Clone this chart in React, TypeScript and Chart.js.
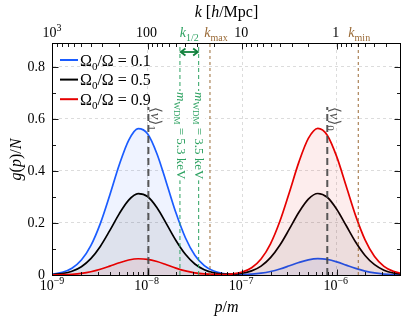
import React, { useEffect, useRef } from 'react';
import { Chart, registerables } from 'chart.js';

Chart.register(...registerables);

// ---------------- data ----------------
const logP = [-9.0, -8.9, -8.8, -8.7, -8.6, -8.5, -8.4, -8.3, -8.2, -8.1, -8.0, -7.9, -7.8, -7.7, -7.6, -7.5, -7.4, -7.3, -7.2, -7.1,
  -7.0, -6.9, -6.8, -6.7, -6.6, -6.5, -6.4, -6.3, -6.2, -6.1, -6.0, -5.9, -5.8, -5.7, -5.6, -5.5, -5.4, -5.3];
const ratios = ['0.1', '0.5', '0.9'];
const gBlue = [0.0037, 0.0104, 0.0259, 0.0574, 0.1130, 0.1976, 0.3068, 0.4229, 0.5178, 0.5627, 0.5430, 0.4652, 0.3539, 0.2390, 0.1433, 0.0763, 0.0361, 0.0152, 0.0058, 0.0024,
  0.0019, 0.0033, 0.0069, 0.0134, 0.0231, 0.0354, 0.0482, 0.0583, 0.0627, 0.0598, 0.0506, 0.0380, 0.0254, 0.0150, 0.0079, 0.0037, 0.0015, 0.0006];
const gBlack = [0.0020, 0.0058, 0.0144, 0.0319, 0.0628, 0.1098, 0.1705, 0.2351, 0.2878, 0.3127, 0.3018, 0.2586, 0.1967, 0.1329, 0.0797, 0.0424, 0.0201, 0.0086, 0.0039, 0.0033,
  0.0066, 0.0157, 0.0343, 0.0668, 0.1154, 0.1771, 0.2412, 0.2917, 0.3133, 0.2988, 0.2529, 0.1901, 0.1269, 0.0752, 0.0396, 0.0185, 0.0077, 0.0028];
const gRed = [0.0004, 0.0012, 0.0029, 0.0064, 0.0126, 0.0220, 0.0341, 0.0470, 0.0576, 0.0625, 0.0604, 0.0517, 0.0393, 0.0266, 0.0159, 0.0085, 0.0041, 0.0021, 0.0019, 0.0043,
  0.0115, 0.0281, 0.0618, 0.1201, 0.2076, 0.3185, 0.4339, 0.5249, 0.5637, 0.5375, 0.4550, 0.3421, 0.2283, 0.1353, 0.0712, 0.0333, 0.0138, 0.0051];

const meanP = [1.02e-8, 7.95e-7];
const meanIdx = ['1', '0'];
const meanTop = 0.646;
const wdmP = [2.2e-8, 3.47e-8];
const wdmMass = ['5.3', '3.5'];
const kLimP = [4.57e-8, 1.69e-6];
const kLimName = ['max', 'min'];

const xDecades = [-9, -8, -7, -6];
const kDecades = [-1, 0, 1, 2, 3];
const yTickVals = [0, 0.1, 0.2, 0.3, 0.4, 0.5, 0.6, 0.7, 0.8];
const yLabelVals = [0, 0.2, 0.4, 0.6, 0.8];

const P_MIN = 1e-9;
const P_MAX = 4.67e-6;
const Y_MAX = 0.888;
const K_FACTOR = 1e-6; // k [h/Mpc] = K_FACTOR / p

// ---------------- style ----------------
const FONT = '"Liberation Serif", "DejaVu Serif", serif';
const BLUE = '#1a5cff';
const BLACK = '#000000';
const RED = '#e60000';
const GREEN = '#2ea262';
const GREEN_DARK = '#10803c';
const BROWN = '#9a6a36';
const GRAY = 'rgba(70,70,70,0.9)';

const isDecade = (v: number) => Math.abs(Math.log10(v) - Math.round(Math.log10(v))) < 1e-6;

type Part = { t: string; i?: boolean; s?: 'sub' | 'sup' };
const partFont = (p: Part, size: number) => `${p.i ? 'italic ' : ''}${p.s ? Math.round(size * 0.7) : size}px ${FONT}`;
function measureParts(ctx: CanvasRenderingContext2D, parts: Part[], size: number) {
  let w = 0;
  for (const p of parts) { ctx.font = partFont(p, size); w += ctx.measureText(p.t).width; }
  return w;
}
function drawParts(ctx: CanvasRenderingContext2D, parts: Part[], x: number, y: number, size: number, color: string, align: 'left' | 'center' | 'right' = 'left') {
  const w = measureParts(ctx, parts, size);
  let cx = align === 'center' ? x - w / 2 : align === 'right' ? x - w : x;
  ctx.fillStyle = color;
  ctx.textAlign = 'left';
  for (const p of parts) {
    ctx.font = partFont(p, size);
    const dy = p.s === 'sub' ? size * 0.25 : p.s === 'sup' ? -size * 0.42 : 0;
    ctx.fillText(p.t, cx, y + dy);
    cx += ctx.measureText(p.t).width;
  }
  return w;
}

const xLabelParts = (v: number): Part[] => [{ t: '10' }, { t: String(Math.round(Math.log10(v))).replace('-', '\u2212'), s: 'sup' }];
const kLabelParts = (v: number): Part[] => (v >= 999 ? [{ t: '10' }, { t: '3', s: 'sup' }] : [{ t: String(Math.round(v)) }]);

const decorPlugin = {
  id: 'decor',
  afterDraw(chart: any) {
    const ctx: CanvasRenderingContext2D = chart.ctx;
    const a = chart.chartArea;
    const sx = chart.scales.x, st = chart.scales.xTop, sy = chart.scales.y;
    ctx.save();
    ctx.setLineDash([]);
    const seg = (x1: number, y1: number, x2: number, y2: number) => { ctx.beginPath(); ctx.moveTo(x1, y1); ctx.lineTo(x2, y2); ctx.stroke(); };

    // inward tick marks + decade labels
    ctx.strokeStyle = '#000';
    ctx.lineWidth = 0.9;
    ctx.textBaseline = 'alphabetic';
    for (const t of sx.ticks) {
      const raw = sx.getPixelForValue(t.value);
      const px = Math.round(raw) + 0.5;
      if (isDecade(t.value)) drawParts(ctx, xLabelParts(t.value), raw - 1, a.bottom + 15, 14, '#000', 'center');
      if (px < a.left + 1 || px > a.right - 1) continue;
      seg(px, a.bottom, px, a.bottom - (isDecade(t.value) ? 5.5 : 3));
    }
    for (const t of st.ticks) {
      const raw = st.getPixelForValue(t.value);
      const px = Math.round(raw) + 0.5;
      if (isDecade(t.value)) drawParts(ctx, kLabelParts(t.value), raw - 1, a.top - 7, 14, '#000', 'center');
      if (px < a.left + 1 || px > a.right - 1) continue;
      seg(px, a.top, px, a.top + (isDecade(t.value) ? 5.5 : 3));
    }
    for (const t of sy.ticks) {
      const py = Math.round(sy.getPixelForValue(t.value)) + 0.5;
      if (py > a.bottom - 1) continue;
      const L = yLabelVals.some((v) => Math.abs(v - t.value) < 1e-6) ? 5.5 : 3;
      seg(a.left, py, a.left + L, py);
      seg(a.right, py, a.right - L, py);
    }
    // frame
    ctx.lineWidth = 1;
    ctx.strokeRect(a.left - 0.5, a.top - 0.5, a.right - a.left + 1, a.bottom - a.top + 1);

    // mean labels <v>
    meanP.forEach((p, i) => {
      const px = sx.getPixelForValue(p);
      const py = sy.getPixelForValue(meanTop);
      ctx.save();
      ctx.translate(px + 3, py);
      ctx.rotate(Math.PI / 2);
      ctx.textBaseline = 'alphabetic';
      drawParts(ctx, [{ t: '\u27E8' }, { t: 'v', i: true }, { t: '\u27E9' }, { t: meanIdx[i], s: 'sub' }], 0, 0, 15, '#555');
      ctx.restore();
    });

    // WDM labels on green lines
    wdmP.forEach((p, i) => {
      const px = sx.getPixelForValue(p);
      const parts: Part[] = [{ t: 'm', i: true }, { t: 'WDM', s: 'sub' }, { t: ' = ' + wdmMass[i] + ' keV' }];
      ctx.save();
      ctx.translate(px, a.top + 48);
      ctx.rotate(Math.PI / 2);
      ctx.textBaseline = 'middle';
      const w = measureParts(ctx, parts, 13);
      ctx.fillStyle = '#fff';
      ctx.fillRect(-1, -6.5, w + 2, 13);
      drawParts(ctx, parts, 0, 0, 13, GREEN);
      ctx.restore();
    });

    // green double arrow (k_1/2)
    {
      const x1 = sx.getPixelForValue(wdmP[0]);
      const x2 = sx.getPixelForValue(wdmP[1]);
      const y = a.top + 8;
      ctx.strokeStyle = GREEN_DARK;
      ctx.lineWidth = 1.8;
      seg(x1 + 1, y, x2 - 1, y);
      ctx.beginPath();
      ctx.moveTo(x1 + 5.5, y - 3.5); ctx.lineTo(x1 + 0.8, y); ctx.lineTo(x1 + 5.5, y + 3.5);
      ctx.moveTo(x2 - 5.5, y - 3.5); ctx.lineTo(x2 - 0.8, y); ctx.lineTo(x2 - 5.5, y + 3.5);
      ctx.stroke();
    }

    // top annotation labels
    ctx.textBaseline = 'alphabetic';
    const topBase = a.top - 7;
    {
      const xm = (sx.getPixelForValue(wdmP[0]) + sx.getPixelForValue(wdmP[1])) / 2;
      drawParts(ctx, [{ t: 'k', i: true }, { t: '1/2', s: 'sub' }], xm, topBase, 14, GREEN, 'center');
    }
    kLimP.forEach((p, i) => {
      const px = sx.getPixelForValue(p) + (i === 0 ? 6 : 1);
      drawParts(ctx, [{ t: 'k', i: true }, { t: kLimName[i], s: 'sub' }], px, topBase, 14, BROWN, 'center');
    });

    // axis titles
    const cx = (a.left + a.right) / 2;
    drawParts(ctx, [{ t: 'k', i: true }, { t: ' [' }, { t: 'h', i: true }, { t: '/Mpc]' }], cx, 17, 16, '#000', 'center');
    drawParts(ctx, [{ t: 'p', i: true }, { t: '/' }, { t: 'm', i: true }], cx, 312, 16, '#000', 'center');
    ctx.save();
    ctx.translate(21, (a.top + a.bottom) / 2);
    ctx.rotate(-Math.PI / 2);
    drawParts(ctx, [{ t: 'g', i: true }, { t: '(' }, { t: 'p', i: true }, { t: ')/' }, { t: 'N', i: true }], 0, 0, 16, '#000', 'center');
    ctx.restore();

    // legend
    const series = [BLUE, BLACK, RED];
    series.forEach((c, i) => {
      const yy = a.top + 16 + i * 19.6;
      ctx.strokeStyle = c;
      ctx.lineWidth = 2;
      seg(a.left + 7, yy, a.left + 25, yy);
      drawParts(ctx, [{ t: '\u03A9' }, { t: '0', s: 'sub' }, { t: '/\u03A9' }, { t: ' = ' }, { t: ratios[i] }], a.left + 27, yy + 5.5, 16, '#000');
    });
    ctx.restore();
  },
};

function curve(vals: number[]) {
  return logP.map((e, i) => ({ x: Math.pow(10, e), y: vals[i] }));
}

export default function App() {
  const ref = useRef<HTMLCanvasElement>(null);
  useEffect(() => {
    const xTicks: number[] = [];
    xDecades.forEach((e) => { for (let m = 1; m <= 9; m++) { const v = m * Math.pow(10, e); if (v >= P_MIN * 0.999 && v <= P_MAX) xTicks.push(v); } });
    const kMin = K_FACTOR / P_MAX;
    const kMax = K_FACTOR / P_MIN;
    const kTicks: number[] = [];
    kDecades.forEach((e) => { for (let m = 1; m <= 9; m++) { const v = m * Math.pow(10, e); if (v >= kMin && v <= kMax * 1.001) kTicks.push(v); } });

    const curveStyle = { pointRadius: 0, borderWidth: 1.7, fill: 'origin', cubicInterpolationMode: 'monotone' as const };
    const datasets: any[] = [
      ...meanP.map((p) => ({ label: 'mean', data: [{ x: p, y: 0 }, { x: p, y: meanTop }], borderColor: GRAY, borderWidth: 2, borderDash: [7, 4], pointRadius: 0, fill: false, order: 0 })),
      ...wdmP.map((p) => ({ label: 'wdm', data: [{ x: p, y: 0 }, { x: p, y: Y_MAX }], borderColor: GREEN, borderWidth: 1, borderDash: [4, 3], pointRadius: 0, fill: false, order: 0 })),
      ...kLimP.map((p) => ({ label: 'klim', data: [{ x: p, y: 0 }, { x: p, y: Y_MAX }], borderColor: BROWN, borderWidth: 1, borderDash: [3, 3], pointRadius: 0, fill: false, order: 0 })),
      { label: 'r0.9', data: curve(gRed), borderColor: RED, backgroundColor: 'rgba(230,0,0,0.07)', ...curveStyle, order: 1 },
      { label: 'r0.5', data: curve(gBlack), borderColor: BLACK, backgroundColor: 'rgba(0,0,0,0.07)', ...curveStyle, order: 2 },
      { label: 'r0.1', data: curve(gBlue), borderColor: BLUE, backgroundColor: 'rgba(26,92,255,0.07)', ...curveStyle, order: 3 },
    ];

    const tickFont = { family: FONT, size: 14 };
    const chart = new Chart(ref.current as HTMLCanvasElement, {
      type: 'line',
      data: { datasets },
      options: {
        animation: false,
        responsive: false,
        devicePixelRatio: 1,
        layout: { padding: { left: 0, right: 7, top: 0, bottom: 0 } },
        plugins: { legend: { display: false }, tooltip: { enabled: false } },
        scales: {
          x: {
            type: 'logarithmic', position: 'bottom', min: P_MIN, max: P_MAX,
            afterBuildTicks: (s: any) => { s.ticks = xTicks.map((v) => ({ value: v })); },
            afterFit: (s: any) => { s.height = 48; },
            ticks: { display: false, autoSkip: false, maxRotation: 0 },
            grid: {
              drawTicks: false, lineWidth: 0.8,
              color: (c: any) => (c.tick && isDecade(c.tick.value) && c.tick.value > P_MIN * 1.5 ? '#d4d4d4' : 'rgba(0,0,0,0)'),
            },
            border: { display: false, dash: [3, 3] },
          },
          xTop: {
            type: 'logarithmic', position: 'top', reverse: true, min: kMin, max: kMax,
            afterBuildTicks: (s: any) => { s.ticks = kTicks.map((v) => ({ value: v })); },
            afterFit: (s: any) => { s.height = 44; },
            ticks: { display: false, autoSkip: false, maxRotation: 0 },
            grid: { display: false, drawTicks: false },
            border: { display: false },
          },
          y: {
            type: 'linear', min: 0, max: Y_MAX,
            afterBuildTicks: (s: any) => { s.ticks = yTickVals.map((v) => ({ value: v })); },
            afterFit: (s: any) => { s.width = 53; },
            ticks: {
              autoSkip: false, padding: 8, color: '#000', font: tickFont,
              callback: (v: any) => { const n = Number(v); const hit = yLabelVals.find((q) => Math.abs(q - n) < 1e-6); return hit === undefined ? '' : hit === 0 ? '0' : hit.toFixed(1); },
            },
            grid: {
              drawTicks: false, lineWidth: 0.8,
              color: (c: any) => (c.tick && c.tick.value > 0.01 && yLabelVals.some((q) => Math.abs(q - c.tick.value) < 1e-6) ? '#d4d4d4' : 'rgba(0,0,0,0)'),
            },
            border: { display: false, dash: [3, 3] },
          },
        },
      } as any,
      plugins: [decorPlugin],
    });
    return () => chart.destroy();
  }, []);

  return (
    <div style={{ position: 'fixed', left: 0, top: 0, width: 407, height: 323, background: '#fff' }}>
      <canvas ref={ref} width={407} height={323} style={{ display: 'block' }} />
    </div>
  );
}
